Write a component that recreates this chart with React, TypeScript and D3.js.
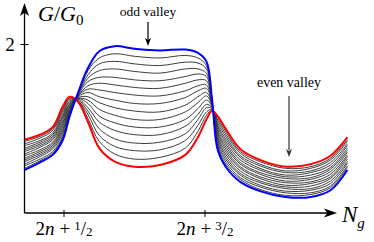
import React, { useEffect, useRef } from "react";
import * as d3 from "d3";

// gate charge axis (N_g) sample points, shared by all curves
const ngPoints = [0.22, 0.33, 0.42, 0.49, 0.54, 0.6, 0.67, 0.75, 0.86, 1.0, 1.18, 1.36, 1.45, 1.51, 1.55, 1.59, 1.65, 1.75, 1.89, 2.07, 2.25, 2.39, 2.51];

// lowest temperature (blue) and highest temperature (red), in units of G0
const blueG = [0.51, 0.6, 0.69, 0.86, 1.15, 1.43, 1.72, 1.92, 1.98, 1.95, 1.93, 1.94, 1.9, 1.8, 1.35, 0.75, 0.54, 0.37, 0.26, 0.19, 0.19, 0.27, 0.51];
const redG = [0.87, 0.93, 1.02, 1.26, 1.38, 1.32, 1.08, 0.77, 0.61, 0.55, 0.57, 0.69, 0.9, 1.11, 1.21, 1.15, 0.99, 0.76, 0.63, 0.55, 0.58, 0.68, 0.9];

// intermediate temperatures (black), from cold to hot
const blackG = [
  [0.53, 0.62, 0.71, 0.89, 1.17, 1.42, 1.69, 1.84, 1.89, 1.86, 1.84, 1.87, 1.84, 1.75, 1.34, 0.78, 0.57, 0.4, 0.28, 0.21, 0.22, 0.3, 0.54],
  [0.56, 0.64, 0.73, 0.91, 1.18, 1.42, 1.64, 1.77, 1.8, 1.77, 1.75, 1.79, 1.78, 1.71, 1.33, 0.8, 0.6, 0.42, 0.31, 0.24, 0.24, 0.32, 0.56],
  [0.58, 0.67, 0.76, 0.94, 1.2, 1.41, 1.6, 1.69, 1.71, 1.68, 1.66, 1.71, 1.71, 1.66, 1.32, 0.83, 0.63, 0.45, 0.33, 0.26, 0.27, 0.35, 0.59],
  [0.61, 0.69, 0.78, 0.97, 1.21, 1.4, 1.56, 1.61, 1.61, 1.58, 1.57, 1.62, 1.65, 1.62, 1.31, 0.86, 0.66, 0.47, 0.36, 0.29, 0.29, 0.38, 0.61],
  [0.63, 0.71, 0.8, 0.99, 1.23, 1.39, 1.51, 1.54, 1.52, 1.49, 1.48, 1.54, 1.58, 1.57, 1.3, 0.88, 0.69, 0.5, 0.38, 0.31, 0.32, 0.41, 0.64],
  [0.65, 0.73, 0.82, 1.02, 1.24, 1.39, 1.47, 1.46, 1.43, 1.4, 1.39, 1.45, 1.51, 1.52, 1.29, 0.91, 0.72, 0.53, 0.41, 0.33, 0.35, 0.43, 0.67],
  [0.68, 0.75, 0.84, 1.05, 1.26, 1.38, 1.43, 1.38, 1.34, 1.3, 1.3, 1.37, 1.45, 1.48, 1.29, 0.94, 0.75, 0.55, 0.43, 0.36, 0.37, 0.46, 0.69],
  [0.7, 0.78, 0.87, 1.07, 1.27, 1.37, 1.38, 1.31, 1.25, 1.21, 1.2, 1.28, 1.38, 1.43, 1.28, 0.96, 0.78, 0.58, 0.46, 0.38, 0.4, 0.49, 0.72],
  [0.73, 0.8, 0.89, 1.1, 1.29, 1.36, 1.34, 1.23, 1.16, 1.11, 1.11, 1.2, 1.31, 1.39, 1.27, 0.99, 0.81, 0.6, 0.48, 0.41, 0.42, 0.52, 0.74],
  [0.75, 0.82, 0.91, 1.13, 1.3, 1.36, 1.3, 1.15, 1.07, 1.02, 1.02, 1.11, 1.24, 1.34, 1.26, 1.02, 0.84, 0.63, 0.51, 0.43, 0.45, 0.54, 0.77],
  [0.77, 0.84, 0.93, 1.15, 1.32, 1.35, 1.25, 1.08, 0.98, 0.93, 0.93, 1.03, 1.17, 1.29, 1.25, 1.04, 0.87, 0.66, 0.53, 0.45, 0.48, 0.57, 0.8],
  [0.8, 0.86, 0.95, 1.18, 1.33, 1.34, 1.21, 1.0, 0.88, 0.83, 0.84, 0.94, 1.11, 1.25, 1.24, 1.07, 0.9, 0.68, 0.56, 0.48, 0.5, 0.6, 0.82],
  [0.82, 0.89, 0.98, 1.21, 1.35, 1.33, 1.17, 0.92, 0.79, 0.74, 0.75, 0.86, 1.04, 1.2, 1.23, 1.1, 0.93, 0.71, 0.58, 0.5, 0.53, 0.63, 0.85],
  [0.85, 0.91, 1.0, 1.23, 1.36, 1.33, 1.12, 0.85, 0.7, 0.64, 0.66, 0.77, 0.97, 1.16, 1.22, 1.12, 0.96, 0.73, 0.61, 0.53, 0.55, 0.65, 0.87],
];

// x ticks sit at half-integer gate charges, y tick at G = 2 G0
const xTicks = [0.5, 1.5];
const xTickNums = ["1", "3"];
const yTicks = [2];

const font = "'Liberation Serif', 'DejaVu Serif', serif";

function App() {
  const ref = useRef<SVGSVGElement>(null);

  useEffect(() => {
    const width = 374,
      height = 242;

    const svg = d3.select(ref.current);
    svg.selectAll("*").remove();

    const x = d3.scaleLinear().domain([0.5, 1.5]).range([64, 205]);
    const y = d3.scaleLinear().domain([0, 2]).range([213, 44.5]);

    const x0 = 24.5, // where the y axis stands
      y0 = y(0);

    const line = d3
      .line<number>()
      .x((d, i) => x(ngPoints[i]))
      .y((d) => y(d))
      .curve(d3.curveCatmullRom.alpha(0.5));

    // black family first, then the two extremes on top
    svg
      .append("g")
      .selectAll("path")
      .data(blackG)
      .join("path")
      .attr("d", (d) => line(d))
      .attr("fill", "none")
      .attr("stroke", "#333")
      .attr("stroke-width", 0.95);

    svg.append("path").attr("d", line(redG)).attr("fill", "none").attr("stroke", "#ff0000").attr("stroke-width", 2);
    svg.append("path").attr("d", line(blueG)).attr("fill", "none").attr("stroke", "#0000ff").attr("stroke-width", 2);

    // stealth-like arrow head, tip at (tx,ty), pointing along angle (deg)
    function arrowHead(tx: number, ty: number, angle: number, len: number, half: number, color: string) {
      const p = d3.path();
      p.moveTo(0, 0);
      p.lineTo(-len, -half);
      p.lineTo(-len * 0.75, 0);
      p.lineTo(-len, half);
      p.closePath();
      svg
        .append("path")
        .attr("d", p.toString())
        .attr("fill", color)
        .attr("transform", `translate(${tx},${ty}) rotate(${angle})`);
    }

    // axes
    svg.append("line").attr("x1", x0).attr("x2", x0).attr("y1", y0).attr("y2", 12).attr("stroke", "black").attr("stroke-width", 1.3);
    arrowHead(x0, 3, -90, 13, 4.5, "black");
    svg.append("line").attr("x1", x0).attr("x2", 328).attr("y1", y0).attr("y2", y0).attr("stroke", "black").attr("stroke-width", 1.3);
    arrowHead(337, y0, 0, 13, 4.5, "black");

    // ticks
    svg
      .selectAll(".xtick")
      .data(xTicks)
      .join("line")
      .attr("x1", (d) => x(d))
      .attr("x2", (d) => x(d))
      .attr("y1", y0 - 3)
      .attr("y2", y0 + 4)
      .attr("stroke", "black")
      .attr("stroke-width", 1);
    svg
      .selectAll(".ytick")
      .data(yTicks)
      .join("line")
      .attr("x1", x0 - 4)
      .attr("x2", x0 + 4)
      .attr("y1", (d) => y(d))
      .attr("y2", (d) => y(d))
      .attr("stroke", "black")
      .attr("stroke-width", 1);

    svg
      .selectAll(".ylab")
      .data(yTicks)
      .join("text")
      .attr("x", 10)
      .attr("y", (d) => y(d) + 6)
      .attr("text-anchor", "middle")
      .style("font-family", font)
      .style("font-size", "19px")
      .text((d) => d);

    // 2n + 1/2, 2n + 3/2
    xTicks.forEach((t, i) => {
      const txt = svg
        .append("text")
        .attr("x", x(t))
        .attr("y", 235)
        .attr("text-anchor", "middle")
        .style("font-family", font)
        .style("font-size", "19px");
      txt.append("tspan").text("2");
      txt.append("tspan").style("font-style", "italic").text("n");
      txt.append("tspan").attr("dx", 5).text("+");
      txt.append("tspan").attr("dx", 4).attr("dy", -5).style("font-size", "13px").text(xTickNums[i]);
      txt.append("tspan").attr("dy", 5).text("/");
      txt.append("tspan").attr("dy", 1).style("font-size", "13px").text("2");
    });

    // axis labels
    const gl = svg.append("text").attr("x", 38).attr("y", 21).style("font-family", font).style("font-size", "22px");
    gl.append("tspan").style("font-style", "italic").text("G");
    gl.append("tspan").text("/");
    gl.append("tspan").style("font-style", "italic").text("G");
    gl.append("tspan").attr("dy", 4).style("font-size", "15px").text("0");

    const nl = svg.append("text").attr("x", 342).attr("y", 222).style("font-family", font).style("font-size", "23px");
    nl.append("tspan").style("font-style", "italic").text("N");
    nl.append("tspan").attr("dy", 6).style("font-size", "15px").style("font-style", "italic").text("g");

    // annotations
    svg.append("text").attr("x", 148).attr("y", 16).attr("text-anchor", "middle").style("font-family", font).style("font-size", "13.5px").text("odd valley");
    svg.append("line").attr("x1", 148).attr("x2", 148).attr("y1", 22).attr("y2", 40).attr("stroke", "black").attr("stroke-width", 1.2);
    arrowHead(148, 46, 90, 8, 3, "black");

    svg.append("text").attr("x", 289).attr("y", 87).attr("text-anchor", "middle").style("font-family", font).style("font-size", "14px").text("even valley");
    svg.append("line").attr("x1", 289).attr("x2", 289).attr("y1", 96).attr("y2", 150).attr("stroke", "#333").attr("stroke-width", 1.2);
    arrowHead(289, 157, 90, 8, 3, "#333");

    svg.attr("width", width).attr("height", height);
  }, []);

  return (
    <svg
      ref={ref}
      width={374}
      height={242}
      style={{ position: "absolute", left: 0, top: 0, background: "white" }}
    />
  );
}

export default App;
